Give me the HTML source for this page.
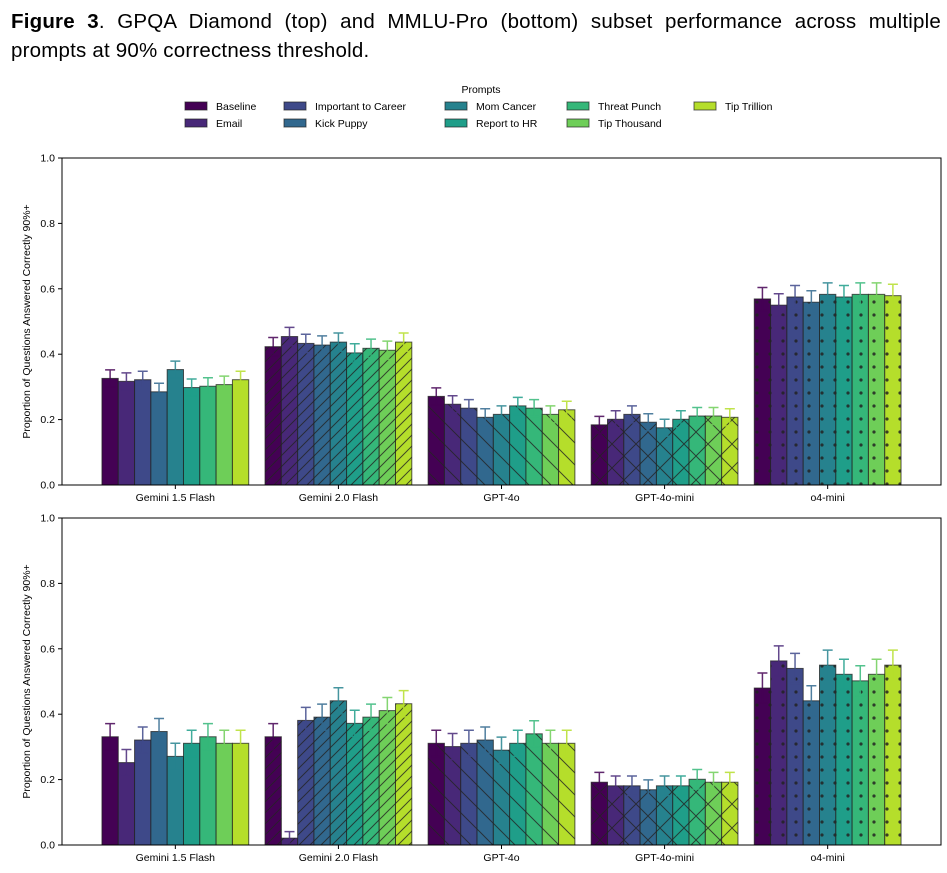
<!DOCTYPE html>
<html><head><meta charset="utf-8">
<style>
body{margin:0;background:#fff;width:947px;height:873px;overflow:hidden;font-family:"Liberation Sans",sans-serif}
#cap{position:absolute;left:11px;top:7px;font-size:20.5px;line-height:29px;color:#000;width:930px;letter-spacing:0.2px}
#cap .l1{display:block;text-align:justify;text-align-last:justify;white-space:nowrap}
#cap .l2{display:block}
svg{position:absolute;left:0;top:0}
</style></head><body>
<div id="cap"><span class="l1"><b>Figure 3</b>. GPQA Diamond (top) and MMLU-Pro (bottom) subset performance across multiple</span><span class="l2">prompts at 90% correctness threshold.</span></div>
<svg id="chart" width="947" height="873">
<defs>
<pattern id="h-fwd" patternUnits="userSpaceOnUse" width="11" height="11"><path d="M-1,12 L12,-1 M-6,6 L6,-6 M5,17 L17,5" stroke="#222" stroke-width="1" opacity="0.8"/></pattern>
<pattern id="h-back" patternUnits="userSpaceOnUse" width="22" height="22"><path d="M-2,-2 L24,24 M-13,9 L13,35 M9,-13 L35,13" stroke="#222" stroke-width="1" opacity="0.8"/></pattern>
<pattern id="h-x" patternUnits="userSpaceOnUse" width="24" height="24"><path d="M0,0 L24,24 M24,0 L0,24" stroke="#222" stroke-width="1" opacity="0.8"/></pattern>
<pattern id="h-dot" patternUnits="userSpaceOnUse" width="13" height="13"><circle cx="3" cy="3" r="1.6" fill="#222" opacity="0.85"/></pattern>
</defs>
</svg>
<script>
const prompts=["Baseline","Email","Important to Career","Kick Puppy","Mom Cancer","Report to HR","Threat Punch","Tip Thousand","Tip Trillion"];
const models=["Gemini 1.5 Flash","Gemini 2.0 Flash","GPT-4o","GPT-4o-mini","o4-mini"];
const gpqaValues=[
[0.326,0.317,0.322,0.285,0.353,0.298,0.302,0.307,0.322],
[0.423,0.454,0.433,0.428,0.437,0.404,0.418,0.412,0.437],
[0.271,0.247,0.235,0.207,0.216,0.242,0.235,0.216,0.230],
[0.184,0.201,0.216,0.192,0.175,0.201,0.211,0.211,0.207],
[0.569,0.550,0.575,0.559,0.583,0.575,0.583,0.583,0.579]];
const mmluValues=[
[0.331,0.252,0.321,0.347,0.271,0.311,0.331,0.311,0.311],
[0.331,0.021,0.381,0.391,0.441,0.372,0.391,0.411,0.432],
[0.311,0.301,0.311,0.321,0.290,0.311,0.340,0.311,0.311],
[0.192,0.181,0.181,0.169,0.181,0.181,0.201,0.192,0.192],
[0.480,0.563,0.540,0.441,0.550,0.522,0.502,0.522,0.550]];
const yTicks=[0,0.2,0.4,0.6,0.8,1.0];
const colors=["#440154","#482878","#3e4989","#31688e","#26828e","#1f9e89","#35b779","#6ece58","#b5de2b"];
const hatches=[null,"h-fwd","h-back","h-x","h-dot"];
const NS="http://www.w3.org/2000/svg";
const svg=document.getElementById("chart");
function mk(tag,attrs,parent){const e=document.createElementNS(NS,tag);for(const k in attrs)e.setAttribute(k,attrs[k]);(parent||svg).appendChild(e);return e;}
const L=62,R=941;
const xmin=-0.695,xmax=4.695;
function xs(v){return L+(v-xmin)/(xmax-xmin)*(R-L);}
const bw=0.1;
function drawPanel(top,bottom,vals,errFn,name){
  const g=mk("g",{});
  
  
  const ys=v=>bottom-v*(bottom-top);
  vals.forEach((row,gi)=>{
    row.forEach((v,pi)=>{
      const cx=gi+(pi-4)*bw;
      const x0=xs(cx-bw/2),x1=xs(cx+bw/2);
      const r=mk("rect",{x:x0,y:ys(v),width:x1-x0,height:ys(0)-ys(v),fill:colors[pi],stroke:"#222","stroke-opacity":0.75,"stroke-width":1},g);
      
      
      if(hatches[gi]){mk("rect",{x:x0,y:ys(v),width:x1-x0,height:ys(0)-ys(v),fill:"url(#"+hatches[gi]+")"},g);}
      const e=errFn(gi,v);
      const xc=xs(cx);
      const eb=mk("path",{d:`M${xc},${ys(v-e)}L${xc},${ys(v+e)}M${xc-5},${ys(v+e)}L${xc+5},${ys(v+e)}M${xc-5},${ys(v-e)}L${xc+5},${ys(v-e)}`,stroke:colors[pi],"stroke-width":1.5,fill:"none",opacity:0.85},g);
      
      
    });
  });
  const ax=mk("rect",{x:L,y:top,width:R-L,height:bottom-top,fill:"none",stroke:"#000","stroke-width":1},g);
  
  
  yTicks.forEach(t=>{
    mk("line",{x1:L-4,x2:L,y1:ys(t),y2:ys(t),stroke:"#000"},g);
    const tx=mk("text",{x:L-7,y:ys(t)+3.5,"text-anchor":"end","font-size":"10.5px",fill:"#000"},g);
    tx.textContent=t.toFixed(1);
    
    
  });
  models.forEach((m,gi)=>{
    mk("line",{x1:xs(gi),x2:xs(gi),y1:bottom,y2:bottom+4,stroke:"#000"},g);
    const tx=mk("text",{x:xs(gi),y:bottom+16,"text-anchor":"middle","font-size":"10.5px",fill:"#000"},g);
    tx.textContent=m;
    
    
  });
  const cy=(top+bottom)/2;
  const yl=mk("text",{x:30,y:cy,"text-anchor":"middle","font-size":"10.5px",transform:`rotate(-90 30 ${cy})`,fill:"#000"},g);
  yl.textContent="Proportion of Questions Answered Correctly 90%+";
  
  
}
drawPanel(158,485,gpqaValues,(gi,v)=>gi==4?0.035:(gi==1?0.028:0.026),"gpqa-panel");
drawPanel(518,845,mmluValues,(gi,v)=>gi==4?0.046:(gi==3?0.03:(v<0.05?0.02:0.04)),"mmlu-panel");
const lg=mk("g",{});


const lt=mk("text",{x:481,y:93,"text-anchor":"middle","font-size":"10.5px"},lg);
lt.textContent="Prompts";


const colX=[185,284,445,567,694];
prompts.forEach((p,i)=>{
  const c=Math.floor(i/2),r=i%2;
  const y=106+r*17;
  const ent=mk("g",{},lg);
  
  
  mk("rect",{x:colX[c],y:y-4,width:22,height:8,fill:colors[i],stroke:"#222","stroke-opacity":0.7},ent);
  const t=mk("text",{x:colX[c]+31,y:y+4,"font-size":"10.5px"},ent);
  t.textContent=p;
});
</script>
</body></html>
